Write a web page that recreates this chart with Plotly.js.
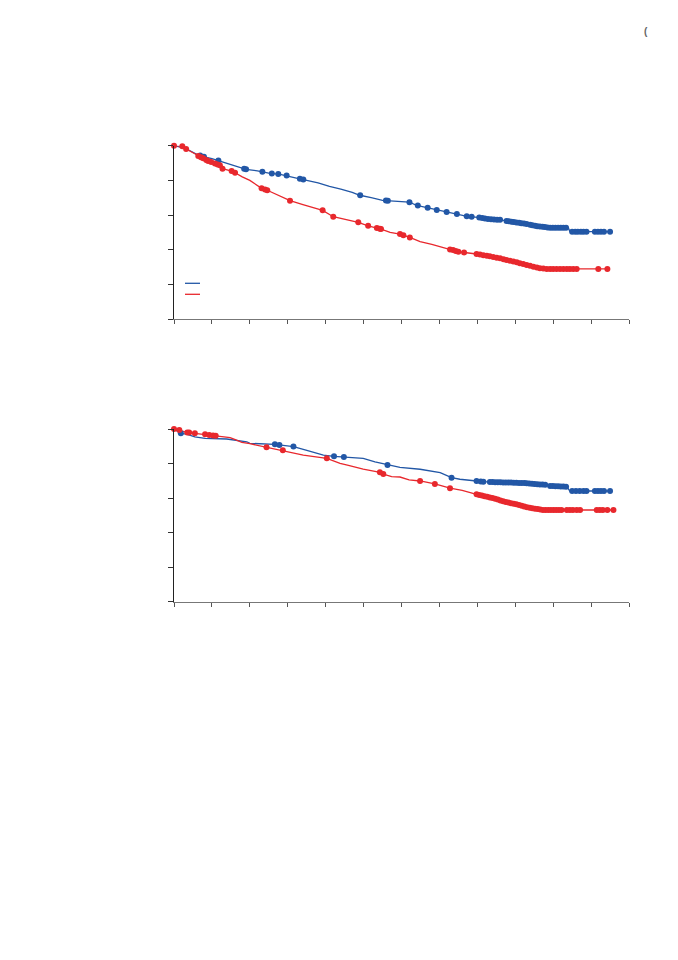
<!DOCTYPE html>
<html>
<head>
<meta charset="utf-8">
<script src="https://cdn.plot.ly/plotly-3.0.1.min.js"></script>
<style>html,body{margin:0;padding:0;background:#fff;}#chart{width:678px;height:960px;}</style>
</head>
<body>
<div id="chart"></div>
<script>
// ---- Top panel ----
var topBlueT = [0,3,6,8,10,12,14,17,19,22,25,28,30,32,35,38,41,44,47,49,52,55,58,60,62,64,67,69,72,74,77,80,83,86,88,91,93,95,99,104,104.4,115];
var topBlueS = [1.0,0.985,0.95,0.935,0.925,0.912,0.895,0.875,0.864,0.855,0.842,0.835,0.827,0.815,0.80,0.785,0.765,0.75,0.73,0.714,0.70,0.685,0.68,0.677,0.675,0.656,0.642,0.631,0.617,0.608,0.594,0.587,0.577,0.572,0.565,0.555,0.548,0.538,0.527,0.527,0.504,0.504];
var topBlueCensor = [6.9,7.9,11.7,18.5,19.0,23.3,25.8,27.5,29.7,33.2,34.1,49.1,55.9,56.4,62.1,64.3,66.9,69.3,71.9,74.6,77.2,78.5,80.5,81.3,82.0,82.8,83.6,84.4,85.2,86.0,87.7,88.3,89.0,89.6,90.3,91.0,91.6,92.3,93.0,93.9,94.5,95.2,95.8,96.5,97.2,97.8,98.5,99.2,99.9,100.6,101.3,102.0,102.7,103.4,105.0,105.8,106.5,107.3,108.0,108.8,111.0,111.8,112.6,113.4,115.0];

var topRedT = [0,2.5,3.2,5,6.4,7.7,9,10.8,12.1,12.8,15.2,16.1,18,20,23.1,24.6,27,30.6,34,37,39.2,42,45,48.6,51.2,53.5,54.6,57,59.6,62.2,64.9,68,70.2,72,73.6,75,79.8,82.5,86,88.6,90.4,93,94.8,96.5,98.3,114.3];
var topRedS = [1.0,0.997,0.981,0.96,0.941,0.927,0.912,0.898,0.887,0.867,0.854,0.844,0.82,0.80,0.754,0.743,0.72,0.683,0.66,0.64,0.627,0.59,0.575,0.558,0.538,0.525,0.519,0.50,0.49,0.471,0.446,0.43,0.417,0.405,0.398,0.388,0.375,0.365,0.350,0.336,0.327,0.312,0.302,0.293,0.289,0.289];
var topRedCensor = [0,2.2,3.2,6.4,7.1,7.7,8.5,9.0,9.8,10.8,11.5,12.1,12.8,15.2,16.1,23.1,24.0,24.6,30.6,39.2,42.0,48.6,51.2,53.5,54.3,54.6,59.6,60.5,62.2,72.8,73.6,74.3,75.0,76.5,79.8,80.7,81.6,82.5,83.3,84.2,85.1,86.0,86.9,87.7,88.6,89.5,90.4,91.2,92.1,93.0,93.9,94.8,95.7,96.5,97.4,98.3,99.2,100.0,100.9,101.8,102.7,103.6,104.4,105.3,106.2,111.9,114.3];

// ---- Bottom panel ----
var botBlueT = [0,1.8,3.3,5.5,8.2,13.9,19.2,20,26.6,31.5,34.8,39.4,42.2,49.9,53,56.3,59.6,64.9,70.2,73.2,75.4,79.8,81.6,85,90,93,96,98.3,99.2,103.6,104.4,115];
var botBlueS = [1.0,0.975,0.97,0.955,0.946,0.942,0.926,0.917,0.911,0.898,0.877,0.849,0.842,0.83,0.81,0.792,0.778,0.767,0.747,0.718,0.709,0.699,0.695,0.692,0.689,0.686,0.68,0.676,0.670,0.666,0.641,0.641];
var botBlueCensor = [1.8,26.6,27.8,31.5,42.2,44.8,56.3,73.2,79.8,80.9,81.6,83.3,84.0,84.7,85.4,86.1,86.8,87.5,88.2,88.9,89.6,90.3,91.0,91.7,92.4,93.0,93.7,94.4,95.1,95.8,96.5,97.2,97.9,99.2,99.9,100.6,101.3,102.0,102.7,103.4,105.0,106.0,107.0,108.0,108.8,111.0,111.8,112.6,113.4,115.0];

var botRedT = [0,1.4,3.3,5.5,8.2,9.5,10.8,14.8,16,17.9,20,24.4,28.7,32,34.1,40.3,43.8,46,49.9,53,54.3,55.2,57.4,59.6,62,64.9,68.8,72.8,76,79.8,81.6,84.2,87.7,90.4,93,95.7,97.4,115.9];
var botRedS = [1.0,0.994,0.981,0.975,0.969,0.965,0.961,0.950,0.94,0.923,0.915,0.894,0.877,0.86,0.849,0.830,0.801,0.79,0.768,0.755,0.749,0.739,0.724,0.722,0.705,0.699,0.682,0.657,0.645,0.622,0.612,0.599,0.576,0.564,0.547,0.537,0.531,0.531];
var botRedCensor = [0,1.4,3.5,4.0,5.5,8.2,9.3,10.3,11.0,24.4,28.7,40.3,54.3,55.2,64.9,68.8,72.8,79.8,80.5,81.2,81.9,82.6,83.3,84.0,84.7,85.4,86.1,86.8,87.5,88.2,88.9,89.6,90.3,91.0,91.7,92.4,93.1,93.8,94.5,95.2,95.9,96.6,97.3,98.0,98.7,99.4,100.1,100.8,101.5,102.2,103.6,104.4,105.2,106.2,107.1,111.5,112.3,113.1,114.3,115.9];

var xTicks = [0,10,20,30,40,50,60,70,80,90,100,110,120];
var yTicks = [0,0.2,0.4,0.6,0.8,1.0];

var BLUE = '#2257a6', RED = '#e8282d';

function interp(ts, ss, t) {
  if (t <= ts[0]) return ss[0];
  for (var i = 1; i < ts.length; i++) {
    if (t <= ts[i]) {
      var f = (t - ts[i-1]) / (ts[i] - ts[i-1]);
      return ss[i-1] + f * (ss[i] - ss[i-1]);
    }
  }
  return ss[ss.length - 1];
}

function curve(ts, ss, color, xa, ya) {
  return {x: ts, y: ss, xaxis: xa, yaxis: ya, mode: 'lines', type: 'scatter',
    line: {color: color, width: 1.3}, cliponaxis: false, hoverinfo: 'skip'};
}
function censor(ts, ss, cs, color, xa, ya) {
  return {x: cs, y: cs.map(function(t){return interp(ts, ss, t);}), xaxis: xa, yaxis: ya,
    mode: 'markers', type: 'scatter', marker: {color: color, size: 6, line: {width: 0}},
    cliponaxis: false, hoverinfo: 'skip'};
}

var data = [
  curve(topBlueT, topBlueS, BLUE, 'x', 'y'),
  curve(topRedT, topRedS, RED, 'x', 'y'),
  censor(topBlueT, topBlueS, topBlueCensor, BLUE, 'x', 'y'),
  censor(topRedT, topRedS, topRedCensor, RED, 'x', 'y'),
  curve(botBlueT, botBlueS, BLUE, 'x2', 'y2'),
  curve(botRedT, botRedS, RED, 'x2', 'y2'),
  censor(botBlueT, botBlueS, botBlueCensor, BLUE, 'x2', 'y2'),
  censor(botRedT, botRedS, botRedCensor, RED, 'x2', 'y2')
];

function xax(anchor) {
  return {domain: [174/678, 629/678], range: [0, 120], anchor: anchor,
    tickmode: 'array', tickvals: xTicks, showticklabels: false,
    ticks: 'outside', ticklen: 4, tickcolor: '#555', tickwidth: 1,
    showline: true, linecolor: '#777', linewidth: 1,
    showgrid: false, zeroline: false, fixedrange: true};
}
function yax(anchor, d0, d1) {
  return {domain: [d0, d1], range: [0, 1], anchor: anchor,
    tickmode: 'array', tickvals: yTicks, showticklabels: false,
    ticks: 'outside', ticklen: 5, tickcolor: '#333', tickwidth: 1,
    showline: true, linecolor: '#222', linewidth: 1,
    showgrid: false, zeroline: false, fixedrange: true};
}

var layout = {
  width: 678, height: 960,
  margin: {l: 0, r: 0, t: 0, b: 0},
  paper_bgcolor: '#fff', plot_bgcolor: '#fff',
  showlegend: false,
  font: {family: 'Liberation Sans, Arial, sans-serif', color: '#333'},
  xaxis: xax('y'),
  yaxis: yax('x', (960-319)/960, (960-145.7)/960),
  xaxis2: xax('y2'),
  yaxis2: yax('x2', (960-601.7)/960, (960-429)/960),
  shapes: [
    {type: 'line', xref: 'paper', yref: 'paper', x0: 185/678, x1: 200/678,
     y0: 1-283.3/960, y1: 1-283.3/960, line: {color: BLUE, width: 1.3}},
    {type: 'line', xref: 'paper', yref: 'paper', x0: 185/678, x1: 200/678,
     y0: 1-294.3/960, y1: 1-294.3/960, line: {color: RED, width: 1.3}}
  ],
  annotations: [
    {text: '<b>(</b>', xref: 'paper', yref: 'paper', x: 646/678, y: 1-31/960,
     showarrow: false, font: {size: 10, color: '#666'}, xanchor: 'center', yanchor: 'middle'}
  ]
};

Plotly.newPlot('chart', data, layout, {staticPlot: true, displayModeBar: false});
</script>
</body>
</html>
